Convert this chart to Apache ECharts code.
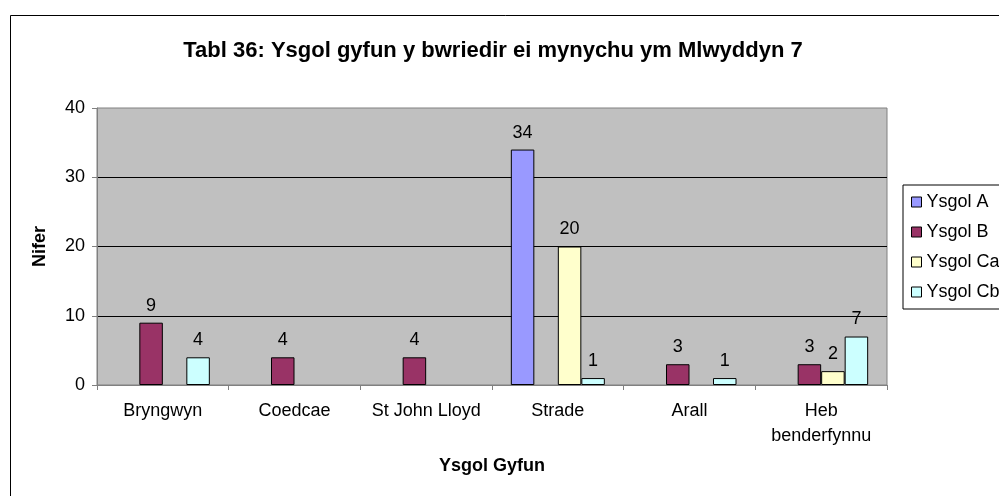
<!DOCTYPE html>
<html>
<head>
<meta charset="utf-8">
<script src="https://cdn.jsdelivr.net/npm/echarts@6/dist/echarts.min.js"></script>
<style>
html, body { margin: 0; padding: 0; background: #fff; }
#chart { width: 999px; height: 496px; }
</style>
</head>
<body>
<div id="chart"></div>
<script>
var categories = ['Bryngwyn', 'Coedcae', 'St John Lloyd', 'Strade', 'Arall', 'Heb\nbenderfynnu'];
var seriesNames = ['Ysgol A', 'Ysgol B', 'Ysgol Ca', 'Ysgol Cb'];
var ysgolA  = [null, null, null, 34, null, null];
var ysgolB  = [9, 4, 4, null, 3, 3];
var ysgolCa = [null, null, null, 20, null, 2];
var ysgolCb = [4, null, null, 1, 1, 7];
var yTicks = { min: 0, max: 40, interval: 10 };
var colours = ['#9999FF', '#993366', '#FFFFCC', '#CCFFFF'];

var font = 'Liberation Sans, Arial, sans-serif';
var allData = [ysgolA, ysgolB, ysgolCa, ysgolCb];

var series = [];
for (var i = 0; i < seriesNames.length; i++) {
	series.push({
		name: seriesNames[i],
		type: 'bar',
		data: allData[i],
		barWidth: 23.5,
		barGap: '0%',
		itemStyle: { color: colours[i], borderColor: '#000', borderWidth: 1 },
		label: { show: true, position: 'top', distance: 8, color: '#000', fontSize: 18, fontFamily: font }
	});
}

var chart = echarts.init(document.getElementById('chart'));
chart.setOption({
	animation: false,
	textStyle: { fontFamily: font },
	title: {
		text: 'Tabl 36: Ysgol gyfun y bwriedir ei mynychu ym Mlwyddyn 7',
		left: 493, top: 40, textAlign: 'center', padding: 0,
		textStyle: { fontSize: 22, fontWeight: 'bold', color: '#000', fontFamily: font }
	},
	legend: {
		orient: 'vertical', left: 903, top: 185,
		padding: [8, 8], itemGap: 12, itemWidth: 10, itemHeight: 10,
		borderColor: '#000', borderWidth: 1, backgroundColor: '#fff',
		icon: 'rect',
		itemStyle: { borderColor: '#000', borderWidth: 1 },
		textStyle: { fontSize: 18, color: '#000', fontFamily: font },
		data: seriesNames
	},
	grid: {
		left: 97, top: 108, width: 790, height: 277,
		show: true, backgroundColor: '#C0C0C0', borderColor: '#808080', borderWidth: 1
	},
	xAxis: {
		type: 'category', data: categories,
		name: 'Ysgol Gyfun', nameLocation: 'middle', nameGap: 72,
		nameTextStyle: { fontSize: 18, fontWeight: 'bold', color: '#000', fontFamily: font },
		axisLine: { lineStyle: { color: '#808080' } },
		axisTick: { show: true, length: 5, lineStyle: { color: '#808080' } },
		axisLabel: { color: '#000', fontSize: 18, margin: 14, lineHeight: 25, fontFamily: font, interval: 0 }
	},
	yAxis: {
		type: 'value', min: yTicks.min, max: yTicks.max, interval: yTicks.interval,
		name: 'Nifer', nameLocation: 'middle', nameGap: 48,
		nameTextStyle: { fontSize: 18, fontWeight: 'bold', color: '#000', fontFamily: font },
		axisLine: { show: true, lineStyle: { color: '#808080' } },
		axisTick: { show: true, length: 5, lineStyle: { color: '#808080' } },
		axisLabel: { color: '#000', fontSize: 18, margin: 12, fontFamily: font },
		splitLine: { show: true, showMinLine: false, showMaxLine: false, lineStyle: { color: '#000', width: 1 } }
	},
	graphic: [{
		type: 'rect', z: -10, silent: true,
		shape: { x: 10.5, y: 15.5, width: 1100, height: 600 },
		style: { fill: 'none', stroke: '#000', lineWidth: 1 }
	}],
	series: series
});
</script>
</body>
</html>
